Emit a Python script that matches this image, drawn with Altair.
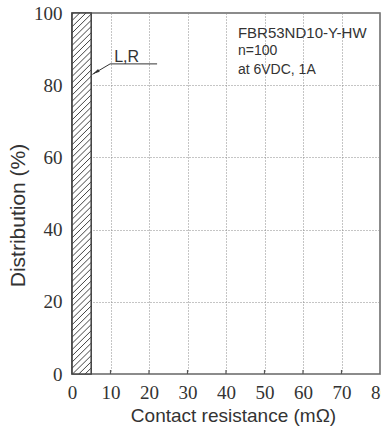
import altair as alt
import pandas as pd
import numpy as np

# ---- data ----
x_ticks = [0, 10, 20, 30, 40, 50, 60, 70, 80]
y_ticks = [0, 20, 40, 60, 80, 100]
inner_ticks = [10, 20, 30, 40, 50, 60, 70]

bar_x0 = [0]
bar_x1 = [5]
bar_y0 = [0]
bar_y1 = [100]

leader_x = [22.1, 9.9, 5.3]
leader_y = [85.9, 85.9, 83.0]
leader_order = [0, 1, 2]

arrow_x = [6.2]
arrow_y = [83.6]

label_text = ["L,R"]
label_x = [14.2]
label_y = [86.4]

note_text = ["FBR53ND10-Y-HW", "n=100", "at 6VDC, 1A"]
note_size = [15, 14, 14]
note_x = [43.1, 43.1, 43.1]
note_y = [93.0, 88.4, 83.0]

# hatch pattern (decoration) across the bar
hatch_base = list(np.arange(-5.3, 100.0, 1.72))
hatch_rise = 5.26

FONT = "Liberation Sans"
NARROW = "Liberation Sans Narrow"

xs = alt.Scale(domain=[0, 80], nice=False, zero=False)
ys = alt.Scale(domain=[0, 100], nice=False, zero=False)

x_axis = alt.Axis(values=x_ticks, title="Contact resistance (mΩ)", grid=True,
                  gridDash=[1, 2], gridColor="#8a8a8a", gridWidth=1,
                  domain=False, ticks=False, labelPadding=9,
                  labelFont=NARROW, labelFontSize=19, labelColor="#333",
                  labelFlush=False, labelOverlap=False,
                  titleFont=FONT, titleFontSize=19, titleFontWeight="normal",
                  titleColor="#333", titleX=161, titleY=47,
                  titleBaseline="alphabetic")
y_axis = alt.Axis(values=y_ticks, title="Distribution (%)", grid=True,
                  gridDash=[1, 2], gridColor="#8a8a8a", gridWidth=1,
                  domain=False, ticks=False, labelPadding=10,
                  labelFont=NARROW, labelFontSize=19, labelColor="#333",
                  labelFlush=False, labelOverlap=False,
                  titleFont=FONT, titleFontSize=21, titleFontWeight="normal",
                  titleColor="#333", titleX=-44, titleY=202)


def X(f):
    return alt.X(f, scale=xs, axis=x_axis)


def Y(f):
    return alt.Y(f, scale=ys, axis=y_axis)


bar_df = pd.DataFrame({"x0": bar_x0, "x1": bar_x1, "y0": bar_y0, "y1": bar_y1})
hatch_df = pd.DataFrame({
    "x0": [bar_x0[0]] * len(hatch_base),
    "x1": [bar_x1[0]] * len(hatch_base),
    "y0": hatch_base,
    "y1": [b + hatch_rise for b in hatch_base],
})
tick_df = pd.DataFrame({"x": inner_ticks})
leader_df = pd.DataFrame({"x": leader_x, "y": leader_y, "o": leader_order})
arrow_df = pd.DataFrame({"x": arrow_x, "y": arrow_y})
label_df = pd.DataFrame({"t": label_text, "x": label_x, "y": label_y})
note_df = pd.DataFrame({"t": note_text, "x": note_x, "y": note_y, "s": note_size})

base_bar = alt.Chart(bar_df).mark_rect(fill="white", stroke="#444", strokeWidth=1.2).encode(
    x=X("x0:Q"), x2="x1:Q", y=Y("y0:Q"), y2="y1:Q",
)

hatch = alt.Chart(hatch_df).mark_rule(color="#444", strokeWidth=1, clip=True).encode(
    x=X("x0:Q"), x2="x1:Q", y=Y("y0:Q"), y2="y1:Q",
)

bar_outline = alt.Chart(bar_df).mark_rect(fill=None, stroke="#444", strokeWidth=1.2).encode(
    x=X("x0:Q"), x2="x1:Q", y=Y("y0:Q"), y2="y1:Q",
)

inner = alt.Chart(tick_df).mark_rule(color="#555", strokeWidth=1.2).encode(
    x=X("x:Q"), y=alt.value(361), y2=alt.value(357),
)

leader = alt.Chart(leader_df).mark_line(color="#333", strokeWidth=1).encode(
    x=X("x:Q"), y=Y("y:Q"), order="o:Q",
)

arrow = alt.Chart(arrow_df).mark_point(
    shape="M1,0 L-1,-0.45 L-1,0.45 Z", filled=True, color="#333",
    size=49, angle=149.5, opacity=1,
).encode(x=X("x:Q"), y=Y("y:Q"))

label = alt.Chart(label_df).mark_text(
    font=FONT, fontSize=16, align="center", baseline="alphabetic", color="#333"
).encode(x=X("x:Q"), y=Y("y:Q"), text="t:N")

notes = alt.Chart(note_df).mark_text(
    font=FONT, align="left", baseline="alphabetic", color="#333"
).encode(
    x=X("x:Q"), y=Y("y:Q"), text="t:N",
    size=alt.Size("s:Q", scale=None, legend=None),
)

chart = alt.layer(base_bar, hatch, bar_outline, inner, leader, arrow, label, notes).properties(
    width=308, height=361,
    autosize=alt.AutoSizeParams(type="none"),
    padding={"left": 72, "top": 13, "right": 1, "bottom": 59},
    background="white",
).configure_view(stroke="#666", strokeWidth=1.5)

chart.save("out.html", embed_options={"renderer": "svg", "actions": False})
